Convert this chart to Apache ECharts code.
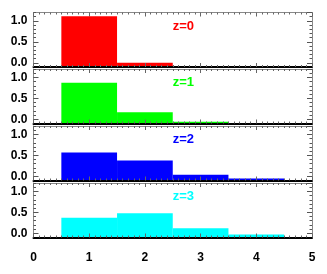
<!DOCTYPE html>
<html>
<head>
<meta charset="utf-8">
<script src="https://cdn.jsdelivr.net/npm/echarts@6/dist/echarts.min.js"></script>
<style>html,body{margin:0;padding:0;background:#fff;}#c{width:327px;height:274px;}</style>
</head>
<body>
<div id="c"></div>
<script>
// ---- data ----
const binEdges = [0.5, 1.5, 2.5, 3.5, 4.5];
const panelLabels = ['z=0', 'z=1', 'z=2', 'z=3'];
const panelColors = ['#ff0000', '#00ff00', '#0000ff', '#00ffff'];
const z0Values = [1.11, 0.0];
const z1Values = [0.87, 0.17, -0.06];
const z2Values = [0.57, 0.38, 0.04, -0.05];
const z3Values = [0.37, 0.48, 0.12, -0.03];
const xTickLabels = ['0', '1', '2', '3', '4', '5'];
const yTickLabels = ['0.0', '0.5', '1.0'];
const allValues = [z0Values, z1Values, z2Values, z3Values];

const Y_MIN = -0.1, Y_MAX = 1.2;
const X_MIN = 0, X_MAX = 5;
const tops = [12.5, 69, 126, 183];
const panelH = 54.5;
const font = 'Liberation Sans';

const grids = [], xAxes = [], yAxes = [], series = [];
for (let i = 0; i < 4; i++) {
  grids.push({left: 33.5, right: 15, top: tops[i], height: panelH});
  // bottom x axis
  xAxes.push({
    gridIndex: i, type: 'value', position: 'bottom', min: X_MIN, max: X_MAX, interval: 1, z: 10,
    axisLine: {show: true, onZero: false, lineStyle: {color: '#000', width: 2}},
    axisTick: {show: true, inside: true, length: 4, lineStyle: {color: '#666'}},
    minorTick: {show: true, splitNumber: 10, length: 2, lineStyle: {color: '#666'}},
    splitLine: {show: false},
    axisLabel: {show: i === 3, margin: 14, color: '#000', fontFamily: font, fontWeight: 'bold', fontSize: 12,
      formatter: v => xTickLabels[Math.round(v)]}
  });
  // top x axis
  xAxes.push({
    gridIndex: i, type: 'value', position: 'top', min: X_MIN, max: X_MAX, interval: 1,
    axisLine: {show: true, onZero: false, lineStyle: {color: '#888', width: 1}},
    axisTick: {show: true, inside: true, length: 4, lineStyle: {color: '#666'}},
    minorTick: {show: true, splitNumber: 10, length: 2, lineStyle: {color: '#666'}},
    splitLine: {show: false}, axisLabel: {show: false}
  });
  const major = (pos, labels) => ({
    gridIndex: i, type: 'value', position: pos, min: Y_MIN, max: Y_MAX, minInterval: 0.5, maxInterval: 0.5, splitNumber: 3,
    axisLine: {show: true, onZero: false, lineStyle: {color: '#888', width: 1}},
    axisTick: {show: true, inside: true, length: 5, lineStyle: {color: '#555'}},
    splitLine: {show: false},
    axisLabel: {show: labels, showMinLabel: false, showMaxLabel: false, margin: 6, color: '#000',
      fontFamily: font, fontWeight: 'bold', fontSize: 12,
      formatter: v => yTickLabels[Math.round(v / 0.5)] || ''}
  });
  const minor = (pos) => ({
    gridIndex: i, type: 'value', position: pos, min: Y_MIN, max: Y_MAX, interval: 0.1,
    axisLine: {show: false, onZero: false},
    axisTick: {show: true, inside: true, length: 2.5, lineStyle: {color: '#555'}},
    splitLine: {show: false}, axisLabel: {show: false}
  });
  yAxes.push(major('left', true), minor('left'), major('right', false), minor('right'));

  const vals = allValues[i];
  const data = vals.map((v, k) => [binEdges[k], binEdges[k + 1], v]);
  series.push({
    type: 'custom', xAxisIndex: 2 * i, yAxisIndex: 4 * i, z: 3,
    itemStyle: {color: panelColors[i]},
    data: data,
    renderItem: function (params, api) {
      const p0 = api.coord([api.value(0), Y_MIN]);
      const p1 = api.coord([api.value(1), api.value(2)]);
      return {type: 'rect', shape: {x: p0[0], y: p1[1], width: p1[0] - p0[0], height: p0[1] - p1[1]},
        style: {fill: api.visual('color')}};
    }
  });
  series.push({
    type: 'custom', xAxisIndex: 2 * i, yAxisIndex: 4 * i, z: 4, silent: true,
    data: [[2.5, 0.72, panelLabels[i]]],
    renderItem: function (params, api) {
      const p = api.coord([api.value(0), api.value(1)]);
      return {type: 'text', x: p[0], y: p[1],
        style: {text: panelLabels[i], fill: panelColors[i], font: 'bold 13px ' + font,
          textAlign: 'left', textVerticalAlign: 'bottom'}};
    }
  });
}

const chart = echarts.init(document.getElementById('c'), null, {renderer: 'canvas'});
chart.setOption({
  animation: false,
  backgroundColor: '#fff',
  grid: grids, xAxis: xAxes, yAxis: yAxes, series: series
});
</script>
</body>
</html>
